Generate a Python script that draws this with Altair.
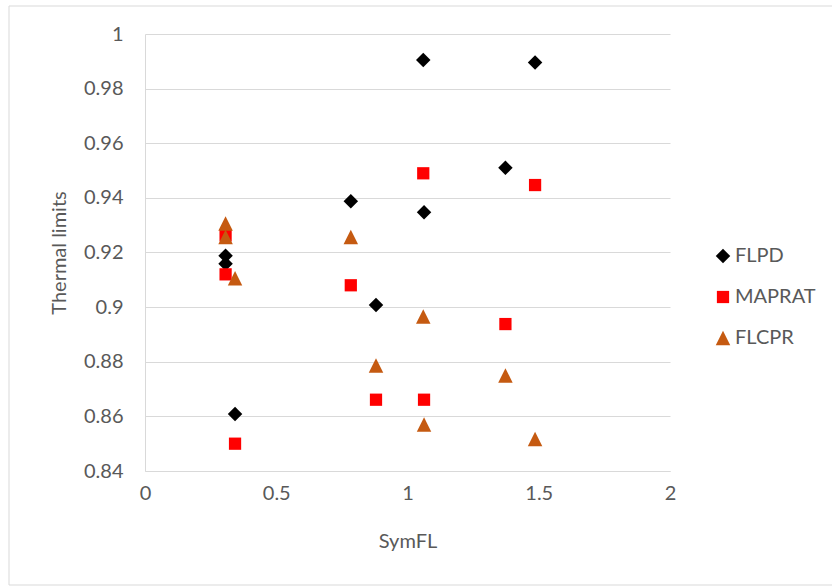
import altair as alt
import pandas as pd

series_names = ["FLPD", "MAPRAT", "FLCPR"]

symfl = [0.307, 0.307, 0.343, 0.784, 0.880, 1.060, 1.063, 1.373, 1.486]
flpd = [0.9188, 0.9159, 0.8609, 0.9388, 0.9008, 0.9905, 0.9347, 0.9510, 0.9896]
maprat = [0.9263, 0.9120, 0.8500, 0.9080, 0.8661, 0.9490, 0.8661, 0.8938, 0.9447]
flcpr = [0.9306, 0.9257, 0.9106, 0.9257, 0.8786, 0.8966, 0.8570, 0.8750, 0.8517]

x_ticks = [0, 0.5, 1, 1.5, 2]
y_ticks = [0.84, 0.86, 0.88, 0.90, 0.92, 0.94, 0.96, 0.98, 1.0]

rows = []
for name, vals in zip(series_names, [flpd, maprat, flcpr]):
    for xv, yv in zip(symfl, vals):
        rows.append({"SymFL": xv, "value": yv, "series": name})
df = pd.DataFrame(rows)

FONT = "Lato"
TXT = "#595959"
GRID = "#d9d9d9"

W, H = 525, 437
LEFT, TOP = 145, 34

leg = dict(title=None, orient="none", legendX=568, legendY=212)

points = alt.Chart(df).mark_point(filled=True, opacity=1, strokeWidth=0).encode(
    x=alt.X("SymFL:Q",
            scale=alt.Scale(domain=[0, 2], nice=False, zero=False),
            axis=alt.Axis(values=x_ticks, format="~g", title="SymFL",
                          titleY=60, titleBaseline="top", labelFlush=False)),
    y=alt.Y("value:Q",
            scale=alt.Scale(domain=[0.84, 1.0], nice=False, zero=False),
            axis=alt.Axis(values=y_ticks, format=".2~f", title="Thermal limits",
                          titleX=-76, labelFlush=False)),
    color=alt.Color("series:N",
                    scale=alt.Scale(domain=series_names,
                                    range=["#000000", "#ff0000", "#c55a11"]),
                    legend=alt.Legend(**leg)),
    shape=alt.Shape("series:N",
                    scale=alt.Scale(domain=series_names,
                                    range=["diamond", "square", "M0,-1L1,1L-1,1Z"]),
                    legend=alt.Legend(**leg)),
    size=alt.Size("series:N",
                  scale=alt.Scale(type="ordinal", domain=series_names,
                                  range=[210, 150, 210]),
                  legend=alt.Legend(**leg)),
    order=alt.Order("order:Q"),
).transform_calculate(
    order="indexof(['FLPD','MAPRAT','FLCPR'], datum.series)"
)

frame = alt.Chart(alt.Data(values=[{"a": 1}])).mark_rect(
    fill=None, stroke=GRID, strokeWidth=1
).encode(
    x=alt.value(9 - LEFT), x2=alt.value(840 - LEFT),
    y=alt.value(6 - TOP), y2=alt.value(585 - TOP),
)

chart = alt.layer(frame, points).properties(
    width=W, height=H,
    autosize=alt.AutoSizeParams(type="none"),
    padding={"left": LEFT, "top": TOP, "right": 832 - LEFT - W, "bottom": 586 - TOP - H},
).configure_view(
    stroke=None
).configure_axis(
    labelFont=FONT, titleFont=FONT, labelFontSize=20, titleFontSize=20,
    labelColor=TXT, titleColor=TXT, titleFontWeight="normal",
    gridColor=GRID, gridWidth=1, domainColor=GRID, domainWidth=1,
    ticks=False,
).configure_axisX(
    grid=False, labelPadding=12, domain=True,
).configure_axisY(
    grid=True, labelPadding=22, domain=True,
).configure_legend(
    labelFont=FONT, labelFontSize=20, labelColor=TXT,
    symbolStrokeWidth=0, rowPadding=21, labelOffset=2, padding=0,
    symbolOpacity=1,
)

chart.save("out.html", embed_options={"renderer": "svg", "actions": False})
